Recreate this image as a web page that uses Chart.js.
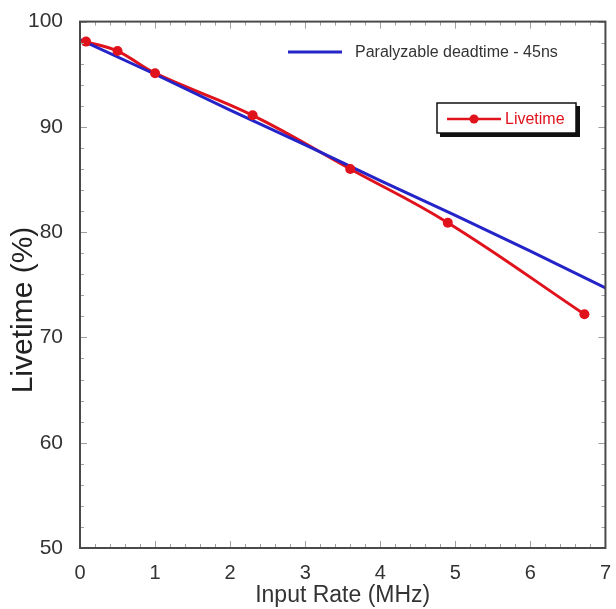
<!DOCTYPE html>
<html>
<head>
<meta charset="utf-8">
<script src="https://cdn.jsdelivr.net/npm/chart.js@4.4.1/dist/chart.umd.min.js"></script>
<style>
html,body{margin:0;padding:0;background:#fff;}
#wrap{width:616px;height:609px;}
</style>
</head>
<body>
<div id="wrap"><canvas id="c" width="616" height="609"></canvas></div>
<script>
// Data
const liveX = [0.08, 0.5, 1.0, 2.3, 3.6, 4.9, 6.72];
const liveY = [98.1, 97.2, 95.1, 91.1, 86.0, 80.9, 72.2];
const deadX = [0, 1, 2, 3, 4, 5, 6, 7];
const deadY = [98.3, 95.0, 91.6, 88.3, 84.9, 81.6, 78.2, 74.7];
const xTicks = [0, 1, 2, 3, 4, 5, 6, 7];
const yTicks = [50, 60, 70, 80, 90, 100];
const legendDead = 'Paralyzable deadtime - 45ns';
const legendLive = 'Livetime';
const xTitle = 'Input Rate (MHz)';
const yTitle = 'Livetime (%)';

const RED = '#e0121c';
const BLUE = '#2424c8';
const FONT = '"Liberation Sans", Arial, Helvetica, sans-serif';

const livePts = liveX.map((x, i) => ({x, y: liveY[i]}));
const deadPts = deadX.map((x, i) => ({x, y: deadY[i]}));

const framePlugin = {
  id: 'frame',
  afterDatasetsDraw(chart) {
    const {ctx, chartArea: a, scales: {x, y}} = chart;
    ctx.save();
    ctx.strokeStyle = '#a0a0a0';
    ctx.lineWidth = 1;
    for (let v = 0; v <= 7.0001; v += 0.2) {
      const px = Math.round(x.getPixelForValue(v)) + 0.5;
      const major = Math.abs(v - Math.round(v)) < 1e-6;
      const L = major ? 7 : 4;
      ctx.beginPath();
      ctx.moveTo(px, a.bottom); ctx.lineTo(px, a.bottom - L);
      ctx.moveTo(px, a.top); ctx.lineTo(px, a.top + L);
      ctx.stroke();
    }
    for (let v = 50; v <= 100.0001; v += 2) {
      const py = Math.round(y.getPixelForValue(v)) + 0.5;
      const major = v % 10 === 0;
      const L = major ? 7 : 4;
      ctx.beginPath();
      ctx.moveTo(a.left, py); ctx.lineTo(a.left + L, py);
      ctx.moveTo(a.right, py); ctx.lineTo(a.right - L, py);
      ctx.stroke();
    }
    ctx.strokeStyle = '#4a4a4a';
    ctx.lineWidth = 2;
    ctx.strokeRect(a.left, a.top, a.right - a.left, a.bottom - a.top);

    // legend 1 (no box)
    ctx.strokeStyle = BLUE;
    ctx.lineWidth = 3;
    ctx.beginPath(); ctx.moveTo(288, 52); ctx.lineTo(342, 52); ctx.stroke();
    ctx.fillStyle = '#333';
    ctx.font = '16px ' + FONT;
    ctx.textBaseline = 'middle';
    ctx.textAlign = 'left';
    ctx.fillText(legendDead, 355, 53);

    // legend 2 (boxed with shadow)
    ctx.fillStyle = '#111';
    ctx.fillRect(440, 106, 140, 31);
    ctx.fillStyle = '#fff';
    ctx.fillRect(437, 103, 139, 30);
    ctx.strokeStyle = '#111';
    ctx.lineWidth = 1.5;
    ctx.strokeRect(437, 103, 139, 30);
    ctx.strokeStyle = RED;
    ctx.lineWidth = 2.5;
    ctx.beginPath(); ctx.moveTo(447, 119); ctx.lineTo(501, 119); ctx.stroke();
    ctx.fillStyle = RED;
    ctx.beginPath(); ctx.arc(474, 119, 4.5, 0, Math.PI * 2); ctx.fill();
    ctx.font = '16px ' + FONT;
    ctx.fillText(legendLive, 505, 120);

    // y title
    ctx.save();
    ctx.translate(24, 310);
    ctx.rotate(-Math.PI / 2);
    ctx.fillStyle = '#222';
    ctx.font = '30px ' + FONT;
    ctx.textAlign = 'center';
    ctx.textBaseline = 'middle';
    ctx.fillText(yTitle, 0, 0);
    ctx.restore();
    ctx.restore();
  }
};

new Chart(document.getElementById('c'), {
  type: 'scatter',
  data: {
    datasets: [
      {
        label: legendLive + ' points',
        data: livePts,
        showLine: false,
        pointRadius: 5,
        pointBackgroundColor: RED,
        pointBorderColor: RED,
        pointBorderWidth: 0
      },
      {
        label: legendDead,
        data: deadPts,
        showLine: true,
        borderColor: BLUE,
        borderWidth: 3,
        pointRadius: 0,
        tension: 0
      },
      {
        label: legendLive,
        data: livePts,
        showLine: true,
        borderColor: RED,
        borderWidth: 3,
        pointRadius: 0,
        tension: 0.4
      }
    ]
  },
  options: {
    responsive: false,
    animation: false,
    devicePixelRatio: 1,
    layout: {padding: {left: 0, right: 3, top: 8, bottom: 0}},
    plugins: {legend: {display: false}, tooltip: {enabled: false}},
    scales: {
      x: {
        type: 'linear',
        min: 0, max: 7,
        afterBuildTicks(s) { s.ticks = xTicks.map(v => ({value: v})); },
        afterFit(s) { s.height = 61; },
        grid: {display: false},
        border: {display: false},
        ticks: {padding: 5, color: '#333', font: {family: FONT, size: 20}},
        title: {display: true, text: xTitle, color: '#333', font: {family: FONT, size: 23}, padding: {top: 0, bottom: 0}}
      },
      y: {
        type: 'linear',
        min: 50, max: 100,
        afterBuildTicks(s) { s.ticks = yTicks.map(v => ({value: v})); },
        afterFit(s) { s.width = 80; },
        grid: {display: false},
        border: {display: false},
        ticks: {padding: 9, color: '#333', font: {family: FONT, size: 21}}
      }
    }
  },
  plugins: [framePlugin]
});
</script>
</body>
</html>
